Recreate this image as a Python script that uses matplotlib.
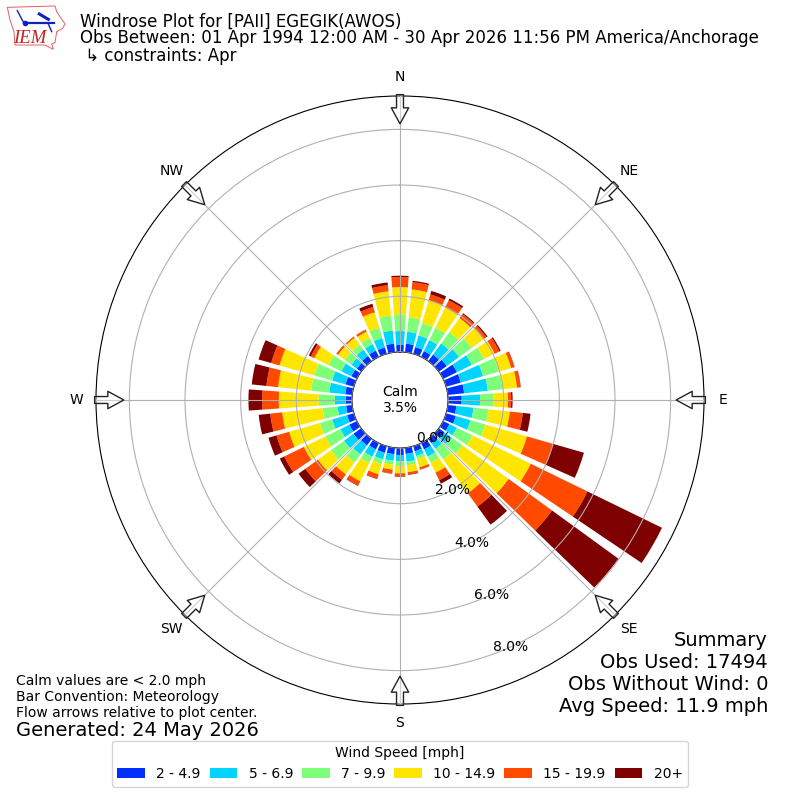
import numpy as np
import matplotlib
matplotlib.use("Agg")
import matplotlib.pyplot as plt
from matplotlib.patches import Polygon

directions = [d * 10 for d in range(36)]
speed_labels = ["2 - 4.9", "5 - 6.9", "7 - 9.9", "10 - 14.9", "15 - 19.9", "20+"]
speed_colors = ["#0030ff", "#00d4ff", "#7dff7a", "#ffe600", "#ff4a00", "#7f0000"]
blue = [.25,.31,.25,.23,.29,.35,.55,.55,.59,.49,.31,.36,.25,.25,.19,.25,.19,.22,.25,.23,.25,.25,.29,.34,.30,.25,.22,.22,.25,.31,.22,.19,.23,.25,.24,.31]
cyan = [.50,.43,.44,.44,.50,.55,.60,.83,.86,.66,.62,.55,.30,.30,.25,.29,.18,.28,.22,.24,.24,.29,.40,.42,.36,.56,.31,.40,.58,.50,.40,.24,.28,.26,.35,.47]
green = [.58,.52,.46,.50,.50,.56,.48,.59,.53,.48,.54,.55,.62,.50,.47,.24,.12,.13,.18,.14,.18,.25,.36,.58,.60,.46,.54,.58,.65,.66,.52,.30,.22,.24,.38,.54]
yellow = [1.00,1.01,.85,.80,.62,.52,.43,.46,.52,.52,.77,1.56,2.33,2.05,1.51,.40,.30,.25,.26,.18,.38,.73,.53,.58,.86,1.15,1.46,1.43,1.20,1.31,.56,.30,.31,.26,.58,.88]
orange = [.36,.26,.22,.29,.18,.13,.19,.12,.13,.12,.47,.98,2.27,1.93,.59,.30,.08,.08,.12,.14,.16,.17,.24,.56,.78,.47,.43,.60,.42,.31,.14,.06,.04,.07,.20,.22]
maroon = [.05,.05,.13,.07,.04,.05,.05,.01,.01,.05,.28,1.15,2.98,2.95,.80,.14,.01,.02,.01,.01,.02,.02,.16,.30,.18,.30,.42,.49,.53,.47,.08,.01,.01,.01,.12,.10]
series = [blue, cyan, green, yellow, orange, maroon]
r_ticks = [0, 2, 4, 6, 8]
r_max = 9.2
calm = 3.5

fig = plt.figure(figsize=(8, 8), dpi=100)
ax = fig.add_axes([0.12, 0.12, 0.76, 0.76], projection="polar")
ax.set_theta_zero_location("N")
ax.set_theta_direction(-1)

theta = np.radians(directions)
bottom = np.zeros(len(directions))
handles = []
for vals, col, lab in zip(series, speed_colors, speed_labels):
    h = ax.bar(theta, vals, width=np.radians(8), bottom=bottom, color=col, label=lab, linewidth=0)
    handles.append(h)
    bottom += np.array(vals)

ax.set_axisbelow(False)
ax.set_rorigin(-1.727)
ax.set_ylim(0, r_max)
ax.set_yticks(r_ticks)
ax.set_yticklabels([f"{v:.1f}%" for v in r_ticks], fontsize=10)
ax.set_rlabel_position(160)
ax.set_xticks(np.radians(np.arange(0, 360, 45)))
ax.set_xticklabels(["N", "NE", "E", "SE", "S", "SW", "W", "NW"], fontsize=10)
ax.tick_params(axis="x", pad=3.5)

for a in np.radians(np.arange(0, 360, 45)):
    ax.annotate("", xy=(a, r_max - 1.0), xytext=(a, r_max + 0.05), xycoords="data", textcoords="data",
                annotation_clip=False,
                arrowprops=dict(facecolor=(1, 1, 1, 0.4), edgecolor="#222222", linewidth=1,
                                width=5, headwidth=12.5, headlength=11.5, shrink=0))

ax.text(0.5, 0.5, f"Calm\n{calm}%", transform=ax.transAxes, ha="center", va="center", fontsize=10)

fig.text(80 / 800, 1 - 22 / 800, "Windrose Plot for [PAII] EGEGIK(AWOS)", fontsize=12, va="center")
fig.text(80 / 800, 1 - 38 / 800, "Obs Between: 01 Apr 1994 12:00 AM - 30 Apr 2026 11:56 PM America/Anchorage", fontsize=12, va="center")
fig.text(80 / 800, 1 - 56 / 800, " ↳ constraints: Apr", fontsize=12, va="center")

fig.text(768 / 800, 1 - 716 / 800, "Summary\nObs Used: 17494\nObs Without Wind: 0\nAvg Speed: 11.9 mph",
         fontsize=14, ha="right", va="bottom")
fig.text(16 / 800, 1 - 720 / 800, "Calm values are < 2.0 mph\nBar Convention: Meteorology\nFlow arrows relative to plot center.",
         fontsize=10, ha="left", va="bottom")
fig.text(16 / 800, 1 - 730 / 800, "Generated: 24 May 2026", fontsize=14, ha="left", va="center")

fig.legend(handles=handles, title="Wind Speed [mph]", ncol=6, loc="lower center",
           bbox_to_anchor=(0.5, 0.008), fontsize=10, title_fontsize=10, columnspacing=0.65)

# IEM logo, drawn on a pixel-sized overlay
logo = fig.add_axes([0, 1 - 54 / 800, 70 / 800, 54 / 800])
logo.set_xlim(0, 210)
logo.set_ylim(162, 0)
logo.axis("off")
outline = [(22, 22), (165, 18), (170, 35), (180, 50), (195, 72), (188, 85), (170, 95), (165, 128),
           (155, 132), (160, 148), (135, 135), (45, 135), (42, 95), (30, 60)]
logo.add_patch(Polygon(outline, closed=True, fill=False, edgecolor="#e06060", linewidth=0.7))
logo.plot([72, 162], [70, 70], color="#1020c0", lw=1.6)
logo.plot([52, 72], [32, 70], color="#1020c0", lw=1.0)
logo.plot([118, 145], [42, 58], color="#1020c0", lw=2.2)
logo.plot([76], [70], "o", color="#1020c0", ms=3)
logo.plot([145, 155], [72, 95], color="#1020c0", lw=1.0)
logo.text(90, 115, "IEM", color="#c82020", fontsize=13.5, family="Liberation Serif", style="italic", ha="center", va="center")

fig.savefig("out.png", dpi=100)
